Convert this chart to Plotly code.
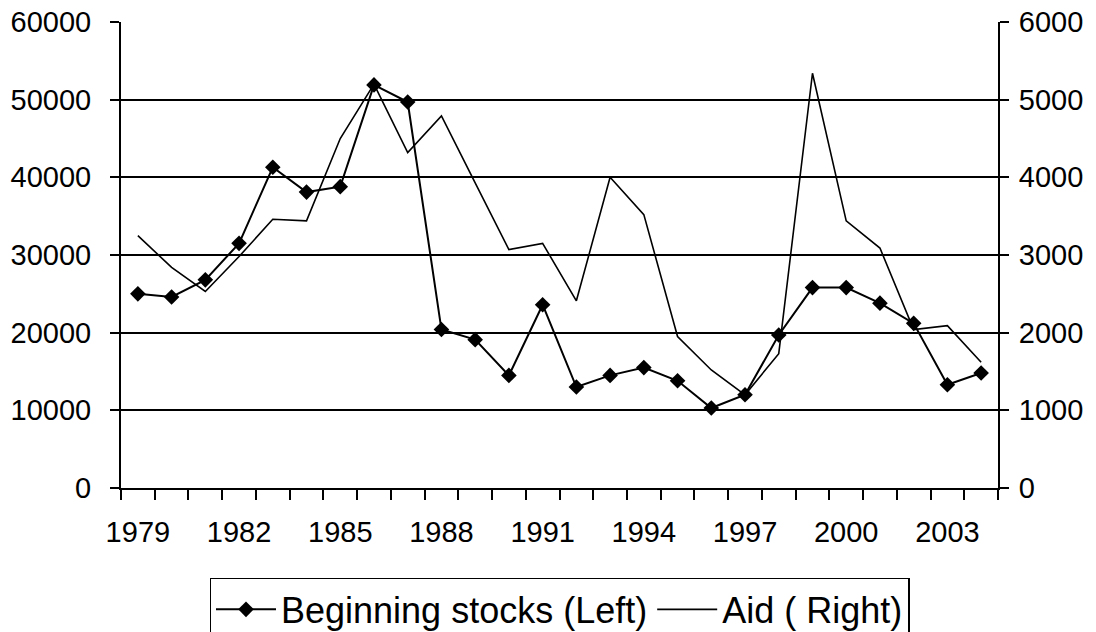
import plotly.graph_objects as go

years = list(range(1979, 2005))
beginning_stocks = [25000, 24600, 26800, 31500, 41300, 38100, 38800, 51900, 49700,
                    20400, 19100, 14500, 23600, 13000, 14500, 15500, 13800, 10300,
                    12000, 19700, 25800, 25800, 23800, 21200, 13300, 14800]
aid = [3250, 2840, 2530, 2980, 3460, 3440, 4500, 5200, 4320, 4790, 3930, 3070,
       3150, 2410, 4000, 3520, 1950, 1520, 1200, 1730, 5340, 3440, 3090, 2040,
       2090, 1620]
x_tick_labels = [1979, 1982, 1985, 1988, 1991, 1994, 1997, 2000, 2003]
left_ticks = [0, 10000, 20000, 30000, 40000, 50000, 60000]
right_ticks = [0, 1000, 2000, 3000, 4000, 5000, 6000]

FONT = "Liberation Sans, Arial, sans-serif"
TICKFONT = dict(family=FONT, size=29, color="black")

fig = go.Figure()
fig.add_trace(go.Scatter(
    x=years, y=beginning_stocks, name="Beginning stocks (Left)",
    mode="lines+markers",
    line=dict(color="black", width=2),
    marker=dict(symbol="diamond", size=12, color="black"),
    yaxis="y",
))
fig.add_trace(go.Scatter(
    x=years, y=aid, name="Aid ( Right)",
    mode="lines",
    line=dict(color="black", width=1.6),
    yaxis="y2",
))

fig.update_layout(
    width=1096, height=632,
    margin=dict(l=121, r=98, t=22, b=144, autoexpand=False),
    paper_bgcolor="white", plot_bgcolor="white",
    font=dict(family=FONT, size=29, color="black"),
    showlegend=True,
    legend=dict(
        orientation="h", x=0.5, xanchor="center", y=-0.193, yanchor="top",
        bordercolor="black", borderwidth=1.5, bgcolor="white",
        font=dict(family=FONT, size=36, color="black"),
        itemwidth=60, tracegroupgap=0,
    ),
    xaxis=dict(
        range=[1978.5, 2004.5], automargin=False,
        tickmode="array", tickvals=x_tick_labels,
        ticktext=[str(v) for v in x_tick_labels],
        ticks="", showgrid=False, zeroline=False,
        showline=True, linecolor="black", linewidth=2,
        ticklabelstandoff=17,
        minor=dict(tick0=1978.5, dtick=1, ticks="outside", ticklen=10,
                   tickwidth=1.5, tickcolor="black", showgrid=False),
        tickfont=TICKFONT,
    ),
    yaxis=dict(
        range=[0, 60000], tickmode="array", tickvals=left_ticks,
        tickformat="d", automargin=False,
        ticks="outside", ticklen=9, tickwidth=1.5, tickcolor="black",
        showgrid=True, gridcolor="black", gridwidth=1.5,
        zeroline=False, showline=True, linecolor="black", linewidth=2,
        ticklabelstandoff=13,
        tickfont=TICKFONT,
    ),
    yaxis2=dict(
        range=[0, 6000], tickmode="array", tickvals=right_ticks,
        tickformat="d", automargin=False,
        overlaying="y", side="right", anchor="x",
        ticks="outside", ticklen=9, tickwidth=1.5, tickcolor="black",
        showgrid=False, zeroline=False,
        showline=True, linecolor="black", linewidth=2,
        ticklabelstandoff=4,
        tickfont=TICKFONT,
    ),
)

fig.write_html(
    "out.html",
    config={"displayModeBar": False},
    post_script="document.body.style.margin='0';document.body.style.overflow='hidden';",
)
